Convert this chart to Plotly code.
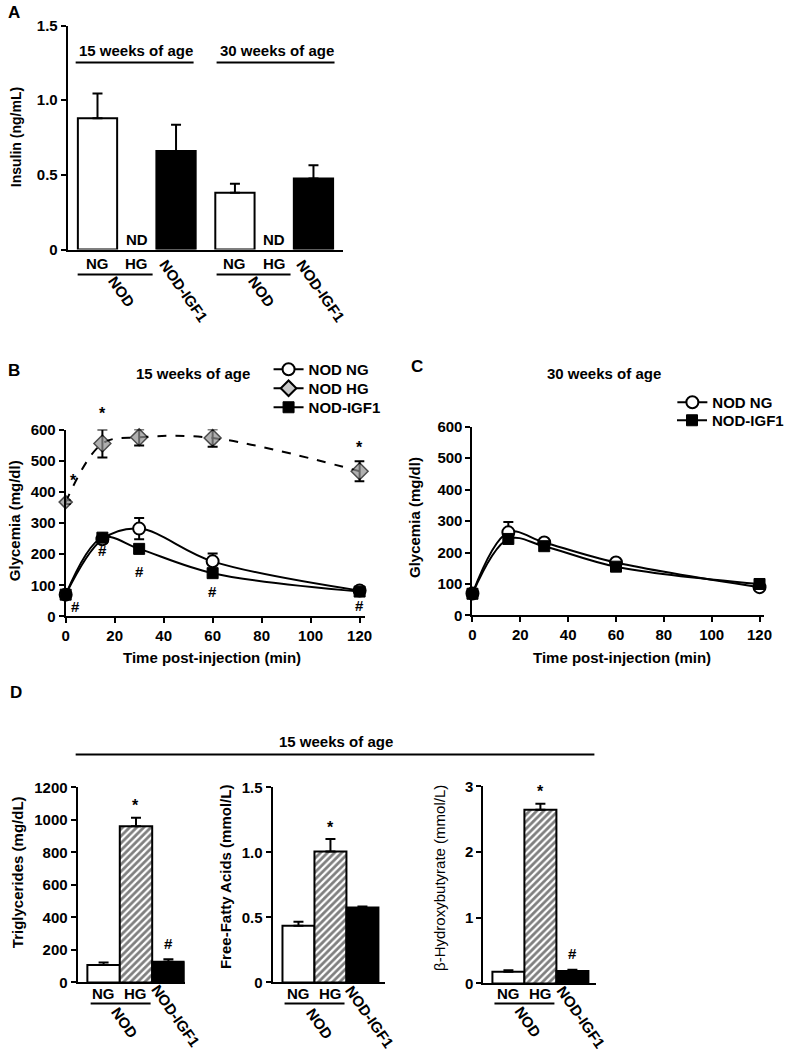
import plotly.graph_objects as go

# ---------------- data ----------------
# Panel A: insulin
a_labels = ["NG", "HG", "NOD-IGF1", "NG", "HG", "NOD-IGF1"]
a_ages = ["15 weeks of age", "30 weeks of age"]
a_ng = [0.88, 0.38]
a_ng_err = [0.165, 0.06]
a_igf1 = [0.66, 0.475]
a_igf1_err = [0.175, 0.09]

# Panels B / C: glycemia (mg/dl)
time_min = [0, 15, 30, 60, 120]
b_ng = [70, 248, 282, 177, 83]
b_ng_err = [5, 8, 34, 25, 5]
b_hg = [367, 555, 575, 573, 466]
b_hg_err = [6, 45, 26, 28, 32]
b_igf1 = [70, 253, 217, 139, 80]
b_igf1_err = [5, 8, 6, 6, 4]

c_ng = [70, 264, 232, 168, 90]
c_ng_err = [5, 33, 8, 6, 5]
c_igf1 = [69, 243, 220, 155, 100]
c_igf1_err = [4, 8, 6, 5, 5]

# Panel D
d_labels = ["NG", "HG", "NOD-IGF1"]
d_tg = [108, 962, 127]
d_tg_err = [14, 52, 16]
d_ffa = [0.436, 1.008, 0.577]
d_ffa_err = [0.03, 0.095, 0.008]
d_bhb = [0.18, 2.645, 0.19]
d_bhb_err = [0.02, 0.09, 0.02]

# ---------------- helpers ----------------
W, H = 789, 1055
CX, CY, S = W / 2, H / 2, 0.984   # photo comes out slightly shrunk about its centre
FONT = "Liberation Sans, Arial, sans-serif"


def fx(px):
    return (CX + (px - CX) / S) / W


def fy(py):
    return 1 - (CY + (py - CY) / S) / H


annotations = []
shapes = []


def ann(text, x, y, size=15, angle=0, bold=True, xref="paper", yref="paper",
        xanchor="center", yanchor="middle", xshift=0, yshift=0):
    xv = fx(x) if xref == "paper" else x
    yv = fy(y) if yref == "paper" else y
    annotations.append(dict(
        text=text, x=xv, y=yv, xref=xref, yref=yref, showarrow=False,
        textangle=angle, xanchor=xanchor, yanchor=yanchor,
        xshift=xshift, yshift=yshift,
        font=dict(family=FONT, size=size, color="black",
                  weight="bold" if bold else "normal")))


def hline(x0, x1, y):
    shapes.append(dict(type="line", xref="paper", yref="paper",
                       x0=fx(x0), x1=fx(x1), y0=fy(y), y1=fy(y),
                       line=dict(color="black", width=2)))


fig = go.Figure()

tickfont = dict(family=FONT, size=15, color="black", weight="bold")


def yax(domain_px, rng, tickvals, ticktext, anchor):
    return dict(domain=[fy(domain_px[1]), fy(domain_px[0])], range=rng,
                tickvals=tickvals, ticktext=ticktext, ticks="outside",
                ticklen=5, tickwidth=2, tickcolor="black", showline=True,
                linewidth=2, linecolor="black", showgrid=False, zeroline=False,
                tickfont=tickfont, anchor=anchor, fixedrange=True)


def xax_cat(domain_px, rng, anchor):
    return dict(domain=[fx(domain_px[0]), fx(domain_px[1])], range=rng,
                showticklabels=False, ticks="", showline=True, linewidth=2,
                linecolor="black", showgrid=False, zeroline=False,
                anchor=anchor, fixedrange=True)


def xax_time(domain_px, anchor):
    return dict(domain=[fx(domain_px[0]), fx(domain_px[1])], range=[0, 122],
                tickvals=[0, 20, 40, 60, 80, 100, 120],
                ticks="outside", ticklen=5, tickwidth=2, tickcolor="black",
                showline=True, linewidth=2, linecolor="black", showgrid=False,
                zeroline=False, tickfont=tickfont, anchor=anchor, fixedrange=True)


def err(arr, up_only=True):
    d = dict(type="data", array=arr, visible=True, thickness=2, width=5,
             color="black")
    if up_only:
        d["symmetric"] = False
        d["arrayminus"] = [0] * len(arr)
    return d


# ---------------- Panel A ----------------
a_pos = [i + (0.5 if i >= 3 else 0) for i in range(len(a_labels))]
ng_pos = [a_pos[0], a_pos[3]]
igf_pos = [a_pos[2], a_pos[5]]
fig.add_trace(go.Bar(x=ng_pos, y=a_ng, width=1, error_y=err(a_ng_err),
                     marker=dict(color="white", line=dict(color="black", width=2)),
                     xaxis="x", yaxis="y", showlegend=False))
fig.add_trace(go.Bar(x=igf_pos, y=a_igf1, width=1, error_y=err(a_igf1_err),
                     marker=dict(color="black", line=dict(color="black", width=2)),
                     xaxis="x", yaxis="y", showlegend=False))

# ---------------- Panel B ----------------
line_w = 2
hg_sizes = [10, 13, 13, 13, 13]
ng_marker = dict(symbol="circle", size=12, color="white", line=dict(color="black", width=2))
igf_marker = dict(symbol="square", size=11, color="black", line=dict(color="black", width=1))
fig.add_trace(go.Scatter(x=time_min, y=b_hg, mode="lines+markers", cliponaxis=False,
                         line=dict(color="black", width=line_w, dash="dash", shape="spline"),
                         marker=dict(symbol="diamond", size=hg_sizes, color="#909090",
                                     line=dict(color="black", width=1.5)),
                         error_y=err(b_hg_err, False), xaxis="x2", yaxis="y2",
                         showlegend=False))
fig.add_trace(go.Scatter(x=time_min, y=b_ng, mode="lines+markers", name="NOD NG",
                         cliponaxis=False,
                         line=dict(color="black", width=line_w, shape="spline"),
                         marker=ng_marker, error_y=err(b_ng_err, False),
                         xaxis="x2", yaxis="y2", legend="legend"))
fig.add_trace(go.Scatter(x=time_min, y=b_igf1, mode="lines+markers", name="NOD-IGF1",
                         cliponaxis=False,
                         line=dict(color="black", width=line_w, shape="spline"),
                         marker=igf_marker, error_y=err(b_igf1_err, False),
                         xaxis="x2", yaxis="y2", legend="legend4"))
# legend entry for HG (solid line in legend)
fig.add_trace(go.Scatter(x=[None], y=[None], mode="lines+markers", name="NOD HG",
                         line=dict(color="black", width=line_w),
                         marker=dict(symbol="diamond", size=12, color="#c8c8c8",
                                     line=dict(color="black", width=2)),
                         xaxis="x2", yaxis="y2", legend="legend3"))

# ---------------- Panel C ----------------
fig.add_trace(go.Scatter(x=time_min, y=c_ng, mode="lines+markers", name="NOD NG",
                         cliponaxis=False,
                         line=dict(color="black", width=line_w, shape="spline"),
                         marker=ng_marker, error_y=err(c_ng_err, False),
                         xaxis="x3", yaxis="y3", legend="legend2"))
fig.add_trace(go.Scatter(x=time_min, y=c_igf1, mode="lines+markers", name="NOD-IGF1",
                         cliponaxis=False,
                         line=dict(color="black", width=line_w, shape="spline"),
                         marker=igf_marker, error_y=err(c_igf1_err, False),
                         xaxis="x3", yaxis="y3", legend="legend5"))

# ---------------- Panel D ----------------
d_pos = list(range(len(d_labels)))
d_sets = [(d_tg, d_tg_err, "x4", "y4"), (d_ffa, d_ffa_err, "x5", "y5"),
          (d_bhb, d_bhb_err, "x6", "y6")]
for vals, errs, xa, ya in d_sets:
    fig.add_trace(go.Bar(x=[d_pos[0]], y=[vals[0]], width=1, error_y=err([errs[0]]),
                         marker=dict(color="white", line=dict(color="black", width=2)),
                         xaxis=xa, yaxis=ya, showlegend=False))
    fig.add_trace(go.Bar(x=[d_pos[1]], y=[vals[1]], width=1, error_y=err([errs[1]]),
                         marker=dict(color="white", line=dict(color="black", width=2),
                                     pattern=dict(shape="/", fgcolor="black",
                                                  bgcolor="white", size=5,
                                                  solidity=0.55)),
                         xaxis=xa, yaxis=ya, showlegend=False))
    fig.add_trace(go.Bar(x=[d_pos[2]], y=[vals[2]], width=1, error_y=err([errs[2]]),
                         marker=dict(color="black", line=dict(color="black", width=2)),
                         xaxis=xa, yaxis=ya, showlegend=False))

# ---------------- axes ----------------
glyc_ticks = [0, 100, 200, 300, 400, 500, 600]
layout_axes = dict(
    xaxis=xax_cat((70, 345), [-0.76, 6.24], "y"),
    yaxis=yax((25, 249), [0, 1.5], [0, 0.5, 1.0, 1.5], ["0", "0.5", "1.0", "1.5"], "x"),
    xaxis2=xax_time((68, 367), "y2"),
    yaxis2=yax((429, 616), [0, 600], glyc_ticks, [str(v) for v in glyc_ticks], "x2"),
    xaxis3=xax_time((475, 767), "y3"),
    yaxis3=yax((426, 615), [0, 600], glyc_ticks, [str(v) for v in glyc_ticks], "x3"),
    xaxis4=xax_cat((80, 187), [-0.8, 2.5], "y4"),
    yaxis4=yax((787, 982), [0, 1200], [0, 200, 400, 600, 800, 1000, 1200],
               ["0", "200", "400", "600", "800", "1000", "1200"], "x4"),
    xaxis5=xax_cat((275, 387), [-0.81, 2.69], "y5"),
    yaxis5=yax((787, 982), [0, 1.5], [0, 0.5, 1.0, 1.5], ["0", "0.5", "1.0", "1.5"], "x5"),
    xaxis6=xax_cat((486, 599), [-0.78, 2.75], "y6"),
    yaxis6=yax((786, 983), [0, 3], [0, 1, 2, 3], ["0", "1", "2", "3"], "x6"),
)

# ---------------- Panel A annotations ----------------
ann("A", 8, 12, size=17, xanchor="left")
ann("Insulin (ng/mL)", 18, 137, angle=-90, size=14)
age_centers = [138, 279]
for i, age in enumerate(a_ages):
    ann(age, age_centers[i], 50)
hline(78, 196, 62)
hline(219, 337, 62)
for i, lab in enumerate(a_labels):
    if lab in ("NG", "HG"):
        ann(lab, a_pos[i], 263, xref="x")
    if lab == "HG":
        ann("ND", a_pos[i], 0, xref="x", yref="y", yshift=10)
hline(80, 155, 274)
hline(219, 293, 274)
ann("NOD", 124, 291, angle=55)
ann("NOD-IGF1", 186, 290, angle=55)
ann("NOD", 264, 291, angle=55)
ann("NOD-IGF1", 323, 290, angle=55)

# ---------------- Panel B annotations ----------------
ann("B", 8, 370, size=17, xanchor="left")
ann("15 weeks of age", 195, 373)
ann("Glycemia (mg/dl)", 17, 520, angle=-90)
ann("Time post-injection (min)", 214, 657)
# significance marks
b_star_shift = [(8, 22), (0, 16), (0, 14), (0, 14), (0, 14)]
for i, t in enumerate(time_min):
    top = b_hg[i] + (b_hg_err[i] if i > 0 else 0)
    ann("*", t, top, xref="x2", yref="y2", size=16,
        xshift=b_star_shift[i][0], yshift=b_star_shift[i][1])
b_hash_shift = [(10, -12), (0, -13), (0, -23), (0, -18), (0, -14)]
for i, t in enumerate(time_min):
    ann("#", t, b_igf1[i], xref="x2", yref="y2",
        xshift=b_hash_shift[i][0], yshift=b_hash_shift[i][1])

# ---------------- Panel C annotations ----------------
ann("C", 412, 366, size=17, xanchor="left")
ann("30 weeks of age", 607, 373)
ann("Glycemia (mg/dl)", 417, 517, angle=-90)
ann("Time post-injection (min)", 625, 657)

# ---------------- Panel D annotations ----------------
ann("D", 10, 692, size=17, xanchor="left")
ann("15 weeks of age", 338, 741)
hline(78, 597, 754)
ann("Triglycerides (mg/dL)", 20, 872, angle=-90)
ann("Free-Fatty Acids (mmol/L)", 228, 877, angle=-90)
ann("β-Hydroxybutyrate (mmol/L)", 442, 877, angle=-90, bold=False)

d_axes = [("x4", "y4", d_tg, d_tg_err, True), ("x5", "y5", d_ffa, d_ffa_err, False),
          ("x6", "y6", d_bhb, d_bhb_err, True)]
for xa, ya, vals, errs, hash_mark in d_axes:
    ann("*", d_pos[1], vals[1] + errs[1], xref=xa, yref=ya, size=16, yshift=12)
    if hash_mark:
        ann("#", d_pos[2], vals[2] + errs[2], xref=xa, yref=ya, yshift=16)
    ann("NG", d_pos[0], 993, xref=xa)
    ann("HG", d_pos[1], 993, xref=xa)

hline(93, 153, 1003)
hline(287, 347, 1003)
hline(497, 557, 1003)
ann("NOD", 127, 1022, angle=55)
ann("NOD-IGF1", 178, 1015, angle=55)
ann("NOD", 322, 1023, angle=55)
ann("NOD-IGF1", 372, 1016, angle=55)
ann("NOD", 531, 1022, angle=55)
ann("NOD-IGF1", 584, 1017, angle=55)

legend_font = dict(family=FONT, size=15, color="black", weight="bold")


def leg(x, y):
    return dict(x=fx(x), y=fy(y), xanchor="left", yanchor="middle",
                font=legend_font, bgcolor="rgba(0,0,0,0)", itemwidth=30,
                borderwidth=0)


fig.update_layout(
    width=W, height=H,
    margin=dict(l=0, r=0, t=0, b=0),
    paper_bgcolor="white", plot_bgcolor="rgba(0,0,0,0)",
    barmode="overlay",
    annotations=annotations, shapes=shapes,
    legend=leg(271, 369),
    legend3=leg(271, 388),
    legend4=leg(271, 407),
    legend2=leg(675, 402),
    legend5=leg(675, 420),
    **layout_axes,
)

fig.write_html("out.html", config={"displayModeBar": False},
               post_script="document.body.style.margin='0';")
